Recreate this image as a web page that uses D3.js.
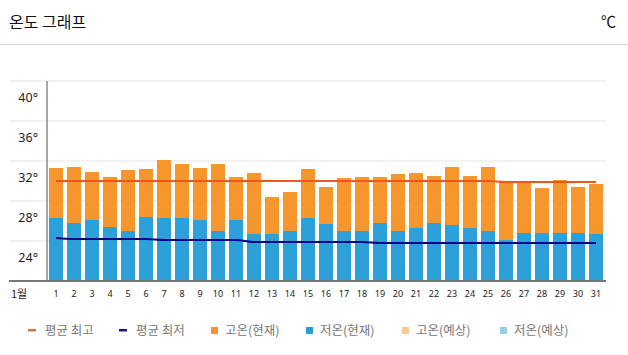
<!DOCTYPE html>
<html><head><meta charset="utf-8">
<script src="https://cdn.jsdelivr.net/npm/d3@7"></script>
<style>body{margin:0;background:#fff}svg{display:block}</style>
</head><body><svg id="c" width="628" height="355"></svg>
<script>
const days = d3.range(1, 32);
const highs = [31.3,31.4,30.9,30.4,31.1,31.2,32.1,31.7,31.3,31.7,30.4,30.8,28.4,28.9,31.2,29.4,30.3,30.4,30.4,30.7,30.8,30.5,31.4,30.5,31.4,29.9,29.9,29.3,30.1,29.4,29.7];
const lows  = [26.3,25.8,26.1,25.4,25.0,26.4,26.3,26.3,26.1,25.0,26.1,24.7,24.7,25.0,26.3,25.7,25.0,25.0,25.8,25.0,25.3,25.8,25.6,25.3,25.0,24.1,24.8,24.8,24.8,24.8,24.7];
const avgHigh = [30.0,30.0,30.0,30.0,30.0,30.0,30.0,30.0,30.0,30.0,30.0,30.0,30.0,30.0,30.0,30.0,30.0,30.0,30.0,30.0,30.0,30.0,30.0,30.0,30.0,29.9,29.9,29.9,29.9,29.9,29.9];
const avgLow  = [24.3,24.2,24.2,24.2,24.2,24.2,24.1,24.1,24.1,24.1,24.1,23.9,23.9,23.9,23.9,23.9,23.9,23.9,23.8,23.8,23.8,23.8,23.8,23.8,23.8,23.8,23.8,23.8,23.8,23.8,23.8];
const yTicks = [24, 28, 32, 36, 40];
const legendItems = [
  {label:"평균 최고", type:"line", color:"#d0743e"},
  {label:"평균 최저", type:"line", color:"#1b1b6b"},
  {label:"고온(현재)", type:"rect", color:"#f7923a"},
  {label:"저온(현재)", type:"rect", color:"#2a9fd6"},
  {label:"고온(예상)", type:"rect", color:"#fbc999"},
  {label:"저온(예상)", type:"rect", color:"#95cfe8"}
];
const legendX = [28, 119, 211, 306, 402, 500];

const svg = d3.select("#c");
const font = "'Noto Sans CJK KR','Noto Sans',sans-serif";

// header
svg.append("text").attr("x", 9).attr("y", 28).attr("font-family", font).attr("font-size", 16).attr("fill", "#111").text("온도 그래프");
svg.append("text").attr("x", 616).attr("y", 27).attr("text-anchor", "end").attr("font-family", font).attr("font-size", 15).attr("fill", "#111").text("℃");
svg.append("line").attr("x1", 0).attr("x2", 628).attr("y1", 44.5).attr("y2", 44.5).attr("stroke", "#dcdcdc").attr("stroke-width", 1.5);

const x = d3.scaleBand().domain(days).range([47, 605]).paddingInner(0.222).paddingOuter(0.111);
const y = d3.scaleLinear().domain([20, 40]).range([281, 81]);

// gridlines
svg.append("g").selectAll("line").data(yTicks).join("line")
  .attr("x1", 9).attr("x2", 606).attr("y1", d => y(d)).attr("y2", d => y(d))
  .attr("stroke", "#eeeeee").attr("stroke-width", 1.5);
svg.append("g").selectAll("text").data(yTicks).join("text")
  .attr("x", 38).attr("y", d => y(d) + 21).attr("text-anchor", "end")
  .attr("font-family", "'Noto Sans',sans-serif").attr("font-size", 12.5).attr("fill", "#222")
  .text(d => d + "°");

// bars
svg.append("g").selectAll("rect").data(days).join("rect")
  .attr("x", d => x(d)).attr("width", x.bandwidth())
  .attr("y", (d, i) => y(highs[i])).attr("height", (d, i) => y(20) - y(highs[i]))
  .attr("fill", "#f7962c");
svg.append("g").selectAll("rect").data(days).join("rect")
  .attr("x", d => x(d)).attr("width", x.bandwidth())
  .attr("y", (d, i) => y(lows[i])).attr("height", (d, i) => y(20) - y(lows[i]))
  .attr("fill", "#2da0da");

// axes
svg.append("line").attr("x1", 47).attr("x2", 47).attr("y1", 81).attr("y2", 281).attr("stroke", "#888").attr("stroke-width", 1.5);
svg.append("line").attr("x1", 9).attr("x2", 606).attr("y1", y(20)).attr("y2", y(20)).attr("stroke", "#777").attr("stroke-width", 2);

// avg lines
const line = d3.line().x((d, i) => x(days[i]) + x.bandwidth() / 2).y(d => y(d)).curve(d3.curveMonotoneX);
svg.append("path").datum(avgHigh).attr("d", line).attr("fill", "none").attr("stroke", "#f0561c").attr("stroke-width", 2.2);
svg.append("path").datum(avgLow).attr("d", line).attr("fill", "none").attr("stroke", "#00008a").attr("stroke-width", 2.2);

// x tick labels
svg.append("g").selectAll("text").data(days).join("text")
  .attr("x", d => x(d) + x.bandwidth() / 2).attr("y", 297).attr("text-anchor", "middle")
  .attr("font-family", "'Noto Sans',sans-serif").attr("font-size", 9).attr("fill", "#222")
  .text(d => d);
svg.append("text").attr("x", 11).attr("y", 298).attr("font-family", font).attr("font-size", 11).attr("fill", "#222").text("1월");

// legend
const lg = svg.append("g").selectAll("g").data(legendItems).join("g")
  .attr("transform", (d, i) => `translate(${legendX[i]},330)`);
lg.filter(d => d.type === "line").append("rect").attr("x", 0).attr("y", -1).attr("width", 8).attr("height", 2.5).attr("fill", d => d.color);
lg.filter(d => d.type === "rect").append("rect").attr("x", 0).attr("y", -3).attr("width", 7).attr("height", 7).attr("fill", d => d.color);
lg.append("text").attr("x", d => d.type === "line" ? 17 : 14).attr("y", 5).attr("font-family", font).attr("font-size", 12.5).attr("fill", "#777")
  .text(d => d.label);
</script></body></html>
